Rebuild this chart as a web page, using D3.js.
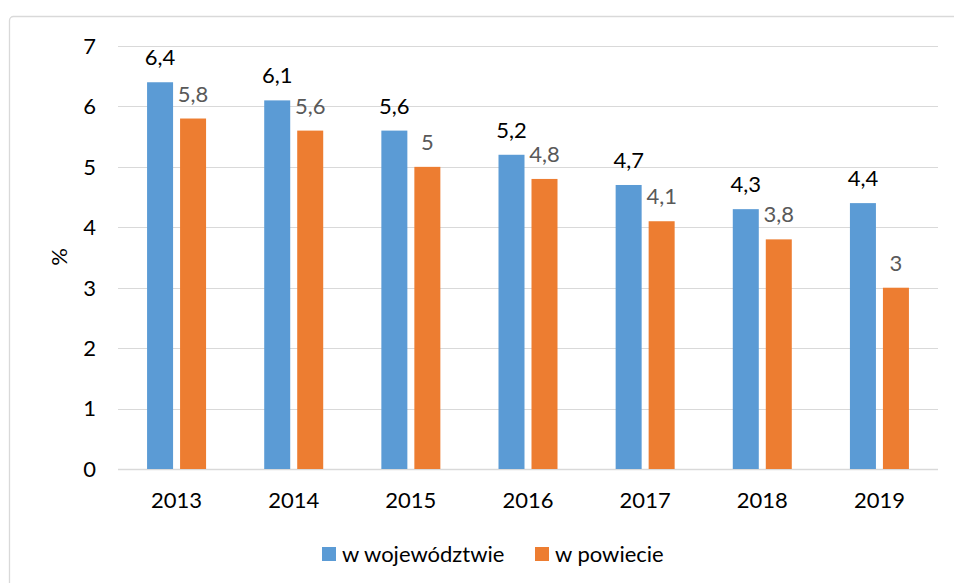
<!DOCTYPE html>
<head>
    <meta charset="utf-8">
    <script src="https://d3js.org/d3.v7.min.js"></script>
    <style>
        body { margin: 0; background: #fff; }
        text { font-family: Lato, "Open Sans", sans-serif; }
    </style>
</head>
<body>
    <svg></svg>
</body>

<script>
    // Data
    var years = ["2013", "2014", "2015", "2016", "2017", "2018", "2019"];
    var wojewodztwo = [6.4, 6.1, 5.6, 5.2, 4.7, 4.3, 4.4];
    var powiat = [5.8, 5.6, 5.0, 4.8, 4.1, 3.8, 3.0];
    var seriesNames = ["w województwie", "w powiecie"];
    var yTicks = [0, 1, 2, 3, 4, 5, 6, 7];

    var colors = ["#5b9bd5", "#ed7d31"];
    var labelColors = ["#000000", "#595959"];

    var width = 954, height = 583;
    var fs = 22;
    var svg = d3.select('svg')
        .attr('width', width)
        .attr('height', height);

    // chart frame
    svg.append('rect')
        .attr('x', 9.5).attr('y', 16.5)
        .attr('width', 960).attr('height', 600)
        .attr('rx', 4)
        .attr('fill', 'none')
        .attr('stroke', '#d9d9d9')
        .attr('stroke-width', 1.3);

    var x = d3.scaleBand()
        .domain(years)
        .range([118, 938]);

    var y = d3.scaleLinear()
        .domain([0, 7])
        .range([469, 46]);

    var barW = 26, gap = 7;
    var x1 = d3.scaleOrdinal()
        .domain([0, 1])
        .range([-gap / 2 - barW, gap / 2]);

    // Gridlines
    svg.append('g').selectAll('line')
        .data(yTicks)
        .enter().append('line')
        .attr('x1', 118).attr('x2', 938)
        .attr('y1', function (d) { return Math.round(y(d)) + 0.5; })
        .attr('y2', function (d) { return Math.round(y(d)) + 0.5; })
        .attr('stroke', '#d9d9d9')
        .attr('stroke-width', function (d) { return d === 0 ? 1.5 : 1; });

    // Y tick labels
    svg.append('g').selectAll('text')
        .data(yTicks)
        .enter().append('text')
        .attr('x', 96)
        .attr('y', function (d) { return y(d); })
        .attr('dy', '0.36em')
        .attr('text-anchor', 'end')
        .attr('font-size', fs)
        .attr('fill', '#000')
        .text(function (d) { return d; });

    // X labels
    svg.append('g').selectAll('text')
        .data(years)
        .enter().append('text')
        .attr('x', function (d) { return x(d) + x.bandwidth() / 2; })
        .attr('y', 508)
        .attr('text-anchor', 'middle')
        .attr('font-size', fs)
        .attr('fill', '#000')
        .text(function (d) { return d; });

    // Y axis title
    svg.append('text')
        .attr('transform', 'translate(67,257) rotate(-90)')
        .attr('text-anchor', 'middle')
        .attr('font-size', fs)
        .attr('fill', '#000')
        .text('%');

    var series = [wojewodztwo, powiat];
    var fmt = function (v) { return String(v).replace('.', ','); };

    series.forEach(function (vals, s) {
        var g = svg.append('g');
        g.selectAll('rect')
            .data(vals)
            .enter().append('rect')
            .attr('x', function (d, i) { return x(years[i]) + x.bandwidth() / 2 + x1(s); })
            .attr('y', function (d) { return y(d); })
            .attr('width', barW)
            .attr('height', function (d) { return y(0) - y(d); })
            .attr('fill', colors[s]);

        g.selectAll('text')
            .data(vals)
            .enter().append('text')
            .attr('x', function (d, i) { return x(years[i]) + x.bandwidth() / 2 + x1(s) + barW / 2; })
            .attr('y', function (d) { return y(d) - 17; })
            .attr('text-anchor', 'middle')
            .attr('font-size', fs)
            .attr('fill', labelColors[s])
            .text(fmt);
    });

    // Legend
    var legendX = [322, 535];
    var legend = svg.append('g');
    seriesNames.forEach(function (name, s) {
        legend.append('rect')
            .attr('x', legendX[s]).attr('y', 547)
            .attr('width', 14).attr('height', 14)
            .attr('fill', colors[s]);
        legend.append('text')
            .attr('x', legendX[s] + 20)
            .attr('y', 554)
            .attr('dy', '0.36em')
            .attr('font-size', fs)
            .attr('fill', '#000')
            .text(name);
    });
</script>
